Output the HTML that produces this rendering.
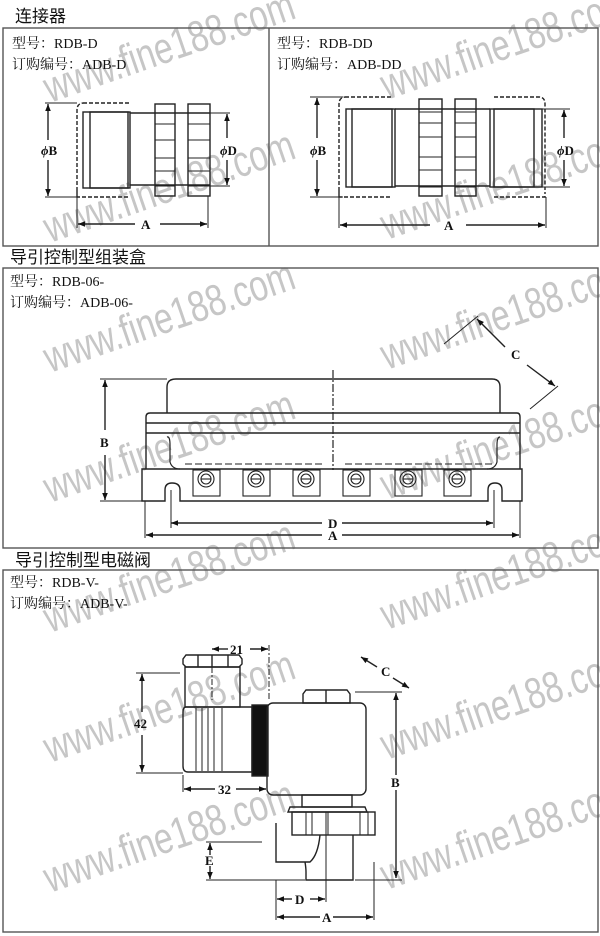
<!DOCTYPE html>
<html><head><meta charset="utf-8"><style>
html,body{margin:0;padding:0;background:#fff;}
svg{display:block;}
.t{font-family:"Liberation Serif","Noto Serif CJK SC",serif;font-size:14px;fill:#111;}
.h{font-family:"Liberation Sans","Noto Sans CJK SC",sans-serif;font-size:17px;fill:#111;}
.l{font-family:"Liberation Serif",serif;font-weight:bold;font-size:13px;fill:#111;}
.wm{font-family:"Liberation Sans",sans-serif;font-size:44px;fill:#c6c6c6;}
</style></head><body>
<svg width="600" height="936" viewBox="0 0 600 936" xmlns="http://www.w3.org/2000/svg">
<defs>
<marker id="a" viewBox="0 0 10 10" refX="10" refY="5" markerWidth="9" markerHeight="7" orient="auto-start-reverse" markerUnits="userSpaceOnUse"><path d="M0,1 L10,5 L0,9 z" fill="#111"/></marker>
</defs>
<!-- watermarks -->
<g class="wm">
<text transform="translate(50,103) rotate(-19)" textLength="262" lengthAdjust="spacingAndGlyphs">www.fine188.com</text>
<text transform="translate(50,243) rotate(-19)" textLength="262" lengthAdjust="spacingAndGlyphs">www.fine188.com</text>
<text transform="translate(50,373) rotate(-19)" textLength="262" lengthAdjust="spacingAndGlyphs">www.fine188.com</text>
<text transform="translate(50,503) rotate(-19)" textLength="262" lengthAdjust="spacingAndGlyphs">www.fine188.com</text>
<text transform="translate(50,633) rotate(-19)" textLength="262" lengthAdjust="spacingAndGlyphs">www.fine188.com</text>
<text transform="translate(50,763) rotate(-19)" textLength="262" lengthAdjust="spacingAndGlyphs">www.fine188.com</text>
<text transform="translate(50,893) rotate(-19)" textLength="262" lengthAdjust="spacingAndGlyphs">www.fine188.com</text>
<text transform="translate(387,100) rotate(-19)" textLength="262" lengthAdjust="spacingAndGlyphs">www.fine188.com</text>
<text transform="translate(387,240) rotate(-19)" textLength="262" lengthAdjust="spacingAndGlyphs">www.fine188.com</text>
<text transform="translate(387,370) rotate(-19)" textLength="262" lengthAdjust="spacingAndGlyphs">www.fine188.com</text>
<text transform="translate(387,500) rotate(-19)" textLength="262" lengthAdjust="spacingAndGlyphs">www.fine188.com</text>
<text transform="translate(387,630) rotate(-19)" textLength="262" lengthAdjust="spacingAndGlyphs">www.fine188.com</text>
<text transform="translate(387,760) rotate(-19)" textLength="262" lengthAdjust="spacingAndGlyphs">www.fine188.com</text>
<text transform="translate(387,890) rotate(-19)" textLength="262" lengthAdjust="spacingAndGlyphs">www.fine188.com</text>
</g>
<g stroke="#222" fill="none" stroke-width="1.4">
<rect x="3" y="28" width="595" height="218" stroke="#555"/>
<line x1="269" y1="28" x2="269" y2="246" stroke="#555"/>
<rect x="3" y="268" width="595" height="280" stroke="#555"/>
<rect x="3" y="570" width="595" height="362" stroke="#555"/>

<path d="M83,103 H129 M77,197 V110 Q77,103 84,103 M77,190 V197 H129" stroke-dasharray="4,2"/>
<rect x="83" y="112" width="47" height="76"/>
<rect x="90" y="112" width="38" height="76"/>
<line x1="130" y1="113" x2="210" y2="113"/><line x1="130" y1="185" x2="210" y2="185"/>
<rect x="155" y="104" width="20" height="92"/>
<rect x="188" y="104" width="22" height="92"/>
<path d="M155,113H175M155,124H175M155,140H175M155,158H175M155,171H175M155,186H175 M188,113H210M188,124H210M188,140H210M188,158H210M188,171H210M188,186H210" stroke-width="1"/>
<path d="M45,103H77M45,197H77 M210,113H230M210,186H230 M77,197V228M208,196V228" stroke-width="1"/>
<line x1="48" y1="140" x2="48" y2="104" marker-end="url(#a)"/><line x1="48" y1="160" x2="48" y2="196" marker-end="url(#a)"/>
<line x1="227" y1="138" x2="227" y2="114" marker-end="url(#a)"/><line x1="227" y1="160" x2="227" y2="185" marker-end="url(#a)"/>
<line x1="135" y1="224" x2="78" y2="224" marker-end="url(#a)"/><line x1="160" y1="224" x2="207" y2="224" marker-end="url(#a)"/>

<path d="M345,97 H392 M339,197 V104 Q339,97 346,97 M339,190 V197 H392 M494,97 H539 Q545,97 545,104 V190 M494,197 H545 V192" stroke-dasharray="4,2"/>
<rect x="346" y="109" width="49" height="78"/><rect x="352" y="109" width="40" height="78"/>
<rect x="490" y="109" width="52" height="78"/><rect x="494" y="109" width="40" height="78"/>
<line x1="395" y1="109" x2="490" y2="109"/><line x1="395" y1="186" x2="490" y2="186"/>
<rect x="419" y="99" width="23" height="97"/><rect x="455" y="99" width="21" height="97"/>
<path d="M419,112H442M419,123H442M419,137H442M419,157H442M419,170H442M419,187H442 M455,112H476M455,123H476M455,137H476M455,157H476M455,170H476M455,187H476" stroke-width="1"/>
<path d="M310,97H343M310,197H343 M542,109H570M542,187H570 M339,197V228M546,197V228" stroke-width="1"/>
<line x1="317" y1="138" x2="317" y2="98" marker-end="url(#a)"/><line x1="317" y1="160" x2="317" y2="196" marker-end="url(#a)"/>
<line x1="564" y1="138" x2="564" y2="110" marker-end="url(#a)"/><line x1="564" y1="160" x2="564" y2="186" marker-end="url(#a)"/>
<line x1="430" y1="225" x2="340" y2="225" marker-end="url(#a)"/><line x1="466" y1="225" x2="545" y2="225" marker-end="url(#a)"/>

<path d="M167,413 V387 Q167,379 176,379 H492 Q500,379 500,387 V413"/>
<path d="M150,413 H517 Q520,413 520,417 V469 M150,413 Q146,413 146,417 V469"/>
<line x1="146" y1="423" x2="520" y2="423"/><line x1="146" y1="433" x2="520" y2="433"/>
<path d="M167,437 Q170,436 170,445 V462 Q172,469 180,469 M500,437 Q497,437 497,445 V462 Q495,469 487,469" stroke-width="1.2"/>
<path d="M142,469 H522 V501 H502 V490 Q502,483 495,483 Q488,483 488,490 V501 H180 V490 Q180,483 172,483 Q165,483 165,490 V501 H142 Z"/>
<line x1="333" y1="370" x2="333" y2="470" stroke-dasharray="8,2,2,2" stroke-width="1.2"/>
<g stroke-width="1.1">
<path d="M185,464h140M345,464h150" stroke-dasharray="7,3"/>
<rect x="193" y="470" width="27" height="26"/><circle cx="206" cy="479" r="8"/><circle cx="206" cy="479" r="5"/><line x1="201" y1="479" x2="211" y2="479"/>
<rect x="243" y="470" width="27" height="26"/><circle cx="256" cy="479" r="8"/><circle cx="256" cy="479" r="5"/><line x1="251" y1="479" x2="261" y2="479"/>
<rect x="293" y="470" width="27" height="26"/><circle cx="306" cy="479" r="8"/><circle cx="306" cy="479" r="5"/><line x1="301" y1="479" x2="311" y2="479"/>
<rect x="343" y="470" width="27" height="26"/><circle cx="356" cy="479" r="8"/><circle cx="356" cy="479" r="5"/><line x1="351" y1="479" x2="361" y2="479"/>
<rect x="395" y="470" width="27" height="26"/><circle cx="408" cy="479" r="8"/><circle cx="408" cy="479" r="5"/><line x1="403" y1="479" x2="413" y2="479"/>
<rect x="444" y="470" width="27" height="26"/><circle cx="457" cy="479" r="8"/><circle cx="457" cy="479" r="5"/><line x1="452" y1="479" x2="462" y2="479"/>
</g>
<path d="M100,379H167 M100,501H142 M145,501V538 M520,501V538 M171,490V528 M494,490V528 M444,344L478,316 M530,409L558,386" stroke-width="1"/>
<line x1="105" y1="430" x2="105" y2="380" marker-end="url(#a)"/><line x1="105" y1="455" x2="105" y2="500" marker-end="url(#a)"/>
<line x1="322" y1="523" x2="171" y2="523" marker-end="url(#a)"/><line x1="342" y1="523" x2="493" y2="523" marker-end="url(#a)"/>
<line x1="322" y1="535" x2="146" y2="535" marker-end="url(#a)"/><line x1="342" y1="535" x2="519" y2="535" marker-end="url(#a)"/>
<line x1="505" y1="347" x2="477" y2="319" marker-end="url(#a)"/><line x1="527" y1="365" x2="555" y2="386" marker-end="url(#a)"/>

<path d="M186,655 H239 L242,659 V664 L239,667 H186 L183,664 V659 Z"/>
<line x1="198" y1="655" x2="198" y2="667"/><line x1="212" y1="655" x2="212" y2="667"/><line x1="228" y1="655" x2="228" y2="667"/>
<rect x="185" y="667" width="55" height="40"/>
<path d="M186,707 H252 V772 H188 Q183,772 183,766 V712 Q183,707 186,707 Z"/>
<path d="M196,708V771M202,708V771M208,708V771M214,708V771M222,708V771" stroke-width="1"/>
<rect x="252" y="705" width="16" height="71" fill="#111"/>
<rect x="267" y="703" width="99" height="92" rx="6"/>
<path d="M306,690 H347 L350,694 V703 H303 V694 Z"/><line x1="326" y1="690" x2="326" y2="703"/>
<rect x="302" y="795" width="50" height="12"/>
<path d="M290,807 H365 L367,812 H288 Z"/>
<rect x="292" y="812" width="83" height="23"/>
<path d="M306,812V835M312,812V835M328,812V835M360,812V835M368,812V835" stroke-width="1"/>
<path d="M276,823 V862 H310 Q318,855 320,835 M305,862 Q306,868 306,872 V880 H353 V835"/>
<line x1="212" y1="655" x2="212" y2="700" stroke-dasharray="6,2,2,2" stroke-width="1"/>
<line x1="269" y1="645" x2="269" y2="700" stroke-dasharray="6,2,2,2" stroke-width="1"/>
<line x1="326" y1="812" x2="326" y2="902" stroke-width="1"/>
<path d="M136,673H180 M136,773H183 M183,775V792 M355,692H402 M206,842H262 M206,880H305 M355,880H402 M276,880V920 M374,862V920" stroke-width="1"/>
<line x1="142" y1="712" x2="142" y2="674" marker-end="url(#a)"/><line x1="142" y1="735" x2="142" y2="772" marker-end="url(#a)"/>
<line x1="215" y1="789" x2="184" y2="789" marker-end="url(#a)"/><line x1="236" y1="789" x2="266" y2="789" marker-end="url(#a)"/>
<line x1="228" y1="649" x2="212" y2="649" marker-end="url(#a)"/><line x1="250" y1="649" x2="268" y2="649" marker-end="url(#a)"/>
<line x1="396" y1="775" x2="396" y2="693" marker-end="url(#a)"/><line x1="396" y1="790" x2="396" y2="878" marker-end="url(#a)"/>
<line x1="210" y1="855" x2="210" y2="843" marker-end="url(#a)"/><line x1="210" y1="866" x2="210" y2="879" marker-end="url(#a)"/>
<line x1="292" y1="899" x2="277" y2="899" marker-end="url(#a)"/><line x1="310" y1="899" x2="325" y2="899" marker-end="url(#a)"/>
<line x1="320" y1="917" x2="277" y2="917" marker-end="url(#a)"/><line x1="333" y1="917" x2="373" y2="917" marker-end="url(#a)"/>
<line x1="377" y1="667" x2="361" y2="657" marker-end="url(#a)"/><line x1="393" y1="678" x2="409" y2="688" marker-end="url(#a)"/>
</g>

<text class="h" x="15" y="22">连接器</text>
<text class="t" x="12" y="48">型号：RDB-D</text>
<text class="t" x="12" y="69">订购编号：ADB-D</text>
<text class="t" x="277" y="48">型号：RDB-DD</text>
<text class="t" x="277" y="69">订购编号：ADB-DD</text>
<text class="h" x="10" y="263">导引控制型组装盒</text>
<text class="t" x="10" y="286">型号：RDB-06-</text>
<text class="t" x="10" y="307">订购编号：ADB-06-</text>
<text class="h" x="15" y="566">导引控制型电磁阀</text>
<text class="t" x="10" y="587">型号：RDB-V-</text>
<text class="t" x="10" y="608">订购编号：ADB-V-</text>

<text class="l" x="41" y="155"><tspan font-style="italic">ϕ</tspan>B</text><text class="l" x="220" y="155"><tspan font-style="italic">ϕ</tspan>D</text><text class="l" x="141" y="229">A</text>
<text class="l" x="310" y="155"><tspan font-style="italic">ϕ</tspan>B</text><text class="l" x="557" y="155"><tspan font-style="italic">ϕ</tspan>D</text><text class="l" x="444" y="230">A</text>
<text class="l" x="100" y="447">B</text><text class="l" x="328" y="528">D</text><text class="l" x="328" y="540">A</text><text class="l" x="511" y="359">C</text>
<text class="l" x="134" y="728">42</text><text class="l" x="218" y="794">32</text><text class="l" x="230" y="654">21</text>
<text class="l" x="391" y="787">B</text><text class="l" x="205" y="865">E</text><text class="l" x="295" y="904">D</text><text class="l" x="322" y="922">A</text><text class="l" x="381" y="676">C</text>
</svg>
</body></html>
